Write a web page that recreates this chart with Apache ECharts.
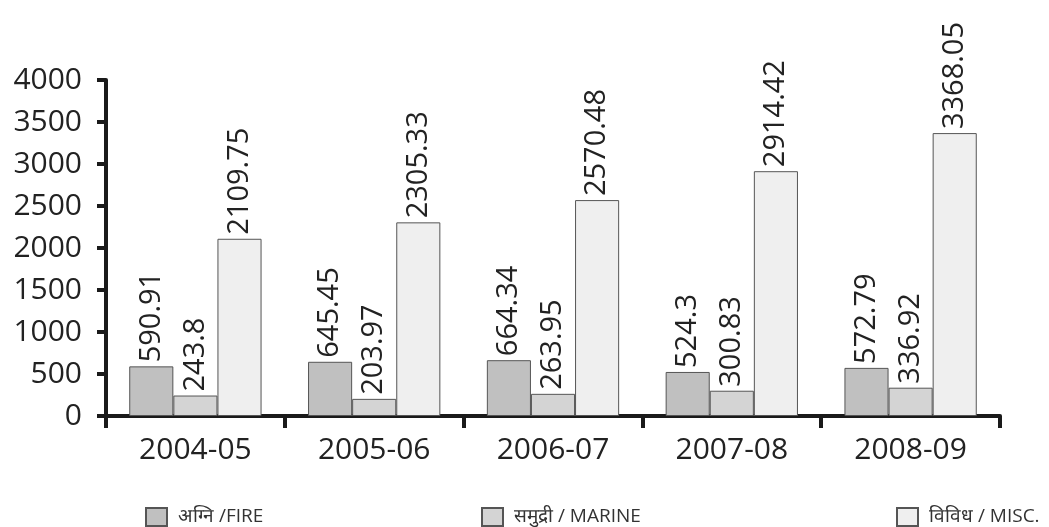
<!DOCTYPE html>
<html>
<head>
<meta charset="utf-8">
<script src="https://cdn.jsdelivr.net/npm/echarts@6/dist/echarts.min.js"></script>
<style>html,body{margin:0;padding:0;background:#fff}#c{width:1049px;height:527px}</style>
</head>
<body>
<div id="c"></div>
<script>
var categories = ['2004-05', '2005-06', '2006-07', '2007-08', '2008-09'];
var fire = [590.91, 645.45, 664.34, 524.3, 572.79];
var marine = [243.8, 203.97, 263.95, 300.83, 336.92];
var misc = [2109.75, 2305.33, 2570.48, 2914.42, 3368.05];
var seriesNames = ['अग्नि /FIRE', 'समुद्री / MARINE', 'विविध / MISC.'];
var yTicks = [0, 500, 1000, 1500, 2000, 2500, 3000, 3500, 4000];

var FONT = '"Open Sans", sans-serif';
var colors = ['#c0c0c0', '#d4d4d4', '#efefef'];

function mkSeries(name, data, color) {
  return {
    name: name, type: 'bar', data: data,
    barGap: '0%', barCategoryGap: '26%',
    itemStyle: { color: color, borderColor: '#555', borderWidth: 1 },
    label: {
      show: true, position: 'top', rotate: 90, align: 'left', verticalAlign: 'middle',
      distance: 4, color: '#222', fontSize: 29, fontFamily: FONT
    }
  };
}
function mkLegend(name, left) {
  return {
    data: [name], left: left, top: 502, itemWidth: 21, itemHeight: 18, itemGap: 0,
    icon: 'rect',
    textStyle: { color: '#333', fontSize: 19, fontFamily: FONT, padding: [0, 0, 0, 6] }
  };
}
var chart = echarts.init(document.getElementById('c'));
chart.setOption({
  animation: false,
  backgroundColor: '#fff',
  grid: { left: 106, right: 49, top: 80, bottom: 111, containLabel: false },
  legend: [mkLegend(seriesNames[0], 140), mkLegend(seriesNames[1], 476), mkLegend(seriesNames[2], 891)],
  xAxis: {
    type: 'category', data: categories,
    axisLine: { show: true, lineStyle: { color: '#1a1a1a', width: 4 } },
    axisTick: { show: true, length: 12, lineStyle: { color: '#1a1a1a', width: 4 } },
    axisLabel: { color: '#222', fontSize: 30, fontFamily: FONT, margin: 19 }
  },
  yAxis: {
    type: 'value', min: 0, max: 4000, interval: 500,
    axisLine: { show: true, lineStyle: { color: '#1a1a1a', width: 4 } },
    axisTick: { show: true, length: 9, lineStyle: { color: '#1a1a1a', width: 4 } },
    splitLine: { show: false },
    axisLabel: { color: '#222', fontSize: 30, fontFamily: FONT, margin: 24,
      formatter: function (v) { return yTicks.indexOf(v) >= 0 ? String(v) : ''; } }
  },
  series: [mkSeries(seriesNames[0], fire, colors[0]), mkSeries(seriesNames[1], marine, colors[1]), mkSeries(seriesNames[2], misc, colors[2])]
});
</script>
</body>
</html>
